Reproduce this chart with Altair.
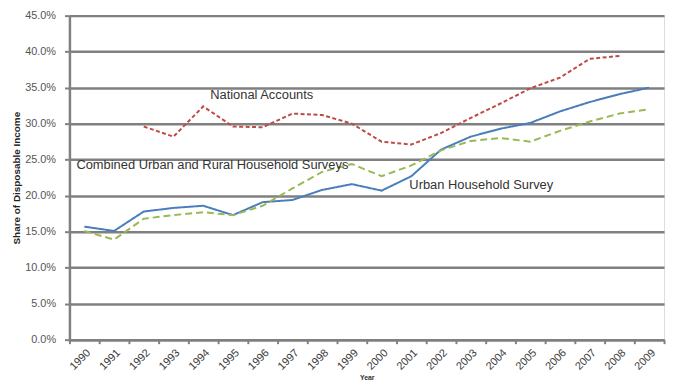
import altair as alt
import pandas as pd

years = [str(y) for y in range(1990, 2010)]
urban = [15.7, 15.1, 17.8, 18.3, 18.6, 17.3, 19.1, 19.4, 20.8, 21.6,
         20.7, 22.7, 26.4, 28.2, 29.3, 30.1, 31.7, 33.0, 34.1, 35.0]
combined = [15.1, 13.9, 16.8, 17.3, 17.7, 17.3, 18.6, 21.0, 23.3, 24.4,
            22.7, 24.2, 26.3, 27.6, 28.0, 27.5, 29.0, 30.3, 31.4, 32.0]
national = [None, None, 29.6, 28.2, 32.4, 29.6, 29.5, 31.4, 31.2, 30.0,
            27.5, 27.1, 28.7, 30.8, 32.8, 34.9, 36.4, 39.0, 39.4, None]

series_names = ["Urban Household Survey", "Combined Urban and Rural Household Surveys", "National Accounts"]
series_colors = ["#4a7ebb", "#98b954", "#be4b48"]
series_dash = [[1, 0], [7, 4], [4, 2.5]]

label_text = ["National Accounts", "Combined Urban and Rural Household Surveys", "Urban Household Survey"]
label_year = ["1994", "1990", "2001"]
label_value = [34.0, 24.3, 21.5]
label_dx = [7, -8, -2]

y_ticks = [0.0, 0.05, 0.10, 0.15, 0.20, 0.25, 0.30, 0.35, 0.40, 0.45]

rows = []
for name, vals in zip(series_names, [urban, combined, national]):
    for y, v in zip(years, vals):
        if v is not None:
            rows.append({"Year": y, "value": v / 100, "series": name})
df = pd.DataFrame(rows)

x_scale = alt.Scale(type="band", domain=years, paddingInner=0, paddingOuter=0)
y_scale = alt.Scale(domain=[0, 0.45], nice=False)

x_axis = alt.Axis(title="Year", labelAngle=-45, tickBand="extent",
                  labelFontSize=11, labelColor="#3a3a3a", labelPadding=3,
                  titleFontSize=7, titleFontWeight="bold", titleColor="#333",
                  titlePadding=2,
                  domainColor="#808080", domainWidth=2.5,
                  tickColor="#808080", tickWidth=2, tickSize=4, grid=False)
y_axis = alt.Axis(title="Share of Disposable Income", format=".1%",
                  values=y_ticks,
                  labelFontSize=11, labelColor="#555", labelPadding=9,
                  titleFontSize=10, titleFontWeight="bold", titleColor="#222",
                  titlePadding=3,
                  grid=True, gridColor="#808080", gridWidth=2.5,
                  domainColor="#808080", domainWidth=2.5,
                  tickColor="#808080", tickWidth=2, tickSize=5)

x_enc = alt.X("Year:O", bandPosition=0.5, scale=x_scale, axis=x_axis)
y_enc = alt.Y("value:Q", scale=y_scale, axis=y_axis)

lines = alt.Chart(df).mark_line(strokeWidth=2).encode(
    x=x_enc, y=y_enc,
    color=alt.Color("series:N", scale=alt.Scale(domain=series_names, range=series_colors), legend=None),
    strokeDash=alt.StrokeDash("series:N", scale=alt.Scale(domain=series_names, range=series_dash), legend=None),
    detail="series:N",
)

layers = [lines]
for t, yr, v, dx in zip(label_text, label_year, label_value, label_dx):
    d = pd.DataFrame({"text": [t], "Year": [yr], "value": [v / 100]})
    layers.append(
        alt.Chart(d).mark_text(align="left", baseline="middle", fontSize=13, dx=dx,
                               font="Liberation Sans", color="#333").encode(
            x=x_enc, y=y_enc, text="text:N")
    )

chart = alt.layer(*layers).properties(
    width=600, height=327,
    autosize=alt.AutoSizeParams(type="none"),
    padding={"left": 62, "top": 6, "right": 6, "bottom": 44},
).configure_view(stroke=None).configure(font="Liberation Sans")

chart.save("out.html", embed_options={"renderer": "svg", "actions": False})
